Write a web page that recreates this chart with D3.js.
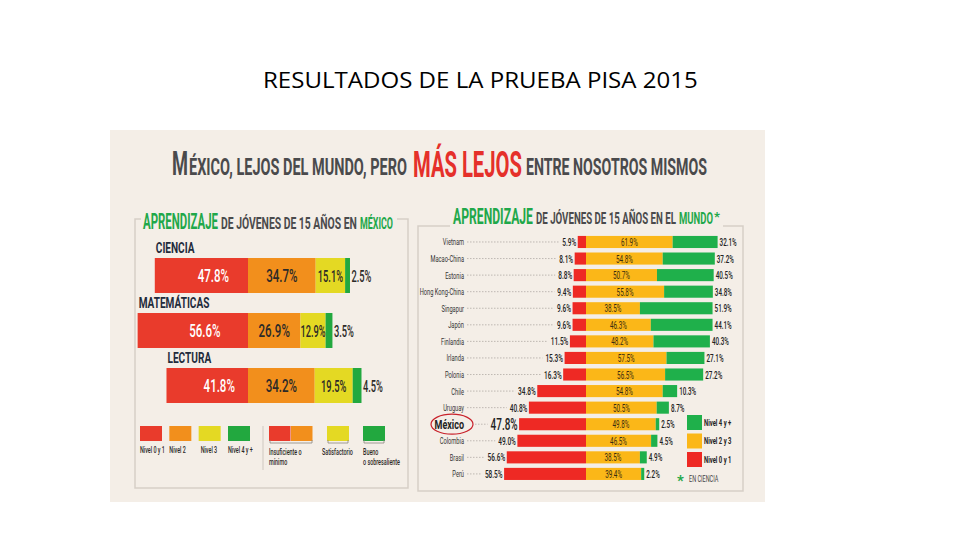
<!DOCTYPE html>
<html><head><meta charset="utf-8">
<script src="https://cdn.jsdelivr.net/npm/d3@7/dist/d3.min.js"></script>
<style>html,body{margin:0;padding:0;background:#fff;}svg{display:block;}</style>
</head><body>
<svg id="c" width="960" height="540"></svg>
<script>
// ---------- DATA ----------
const slideTitle = "RESULTADOS DE LA PRUEBA PISA 2015";
const subjects = ["CIENCIA", "MATEMÁTICAS", "LECTURA"];
const mxNivel01 = [47.8, 56.6, 41.8];
const mxNivel2  = [34.7, 26.9, 34.2];
const mxNivel3  = [15.1, 12.9, 19.5];
const mxNivel4  = [2.5, 3.5, 4.5];
const leftLegendLabels = ["Nivel 0 y 1", "Nivel 2", "Nivel 3", "Nivel 4 y +"];

const countries = ["Vietnam","Macao-China","Estonia","Hong Kong-China","Singapur","Japón","Finlandia","Irlanda","Polonia","Chile","Uruguay","México","Colombia","Brasil","Perú"];
const nivel01 = [5.9, 8.1, 8.8, 9.4, 9.6, 9.6, 11.5, 15.3, 16.3, 34.8, 40.8, 47.8, 49.0, 56.6, 58.5];
const nivel23 = [61.9, 54.8, 50.7, 55.8, 38.5, 46.3, 48.2, 57.5, 56.5, 54.8, 50.5, 49.8, 46.5, 38.5, 39.4];
const nivel4  = [32.1, 37.2, 40.5, 34.8, 51.9, 44.1, 40.3, 27.1, 27.2, 10.3, 8.7, 2.5, 4.5, 4.9, 2.2];
const rightLegendLabels = ["Nivel 4 y +", "Nivel 2 y 3", "Nivel 0 y 1"];

// ---------- STYLE ----------
const C = {
  bg: "#f4eee7", dark: "#4a4a4c", green: "#1fa84a", red: "#e5302a",
  lRed: "#e93b2c", lOrange: "#f28f1c", lYellow: "#e4d923", lGreen: "#22a83f",
  rRed: "#ee2924", rGold: "#fbb718", rGreen: "#1fb04b", navy: "#1f2b3c", text: "#2c2a28"
};
const F = "Roboto, 'Liberation Sans', sans-serif";
const svg = d3.select("#c");

// text condensed horizontally by a transform (factor f), so its box is exact
function txt(g, s, x, y, size, color, weight, anchor, f, family) {
  const t = g.append("text").attr("x", 0).attr("y", 0).text(s)
    .attr("font-family", family || F).attr("font-size", size).attr("fill", color)
    .attr("font-weight", weight || 700).attr("text-anchor", anchor || "start");
  t.attr("transform", `translate(${x},${y}) scale(${f || 1},1)`);
  t.node().__f = f || 1;
  return t;
}
// text squeezed to an exact width
function fitTxt(g, s, x, y, size, color, width, weight, family) {
  const t = txt(g, s, x, y, size, color, weight, "start", 1, family);
  const w = t.node().getComputedTextLength();
  const f = width / w;
  t.attr("transform", `translate(${x},${y}) scale(${f},1)`);
  return t;
}
const widthOf = t => t.node().getComputedTextLength() * t.node().__f;

// Slide title
fitTxt(svg, slideTitle, 263, 88, 22, "#000", 435, 400, "'Open Sans', 'Noto Sans', sans-serif");

// Infographic background
svg.append("rect").attr("x", 110).attr("y", 130).attr("width", 655).attr("height", 372).attr("fill", C.bg);

// Headline
fitTxt(svg, "M", 172, 175, 34, C.dark, 16);
fitTxt(svg, "ÉXICO, LEJOS DEL MUNDO, PERO", 189, 175, 23, C.dark, 218);
fitTxt(svg, "MÁS LEJOS", 413, 177, 37, C.red, 109);
fitTxt(svg, "ENTRE NOSOTROS MISMOS", 526, 175, 23, C.dark, 181);

// Panel boxes (with gaps for subtitles)
const box = svg.append("g").attr("fill", "none").attr("stroke", "#d6cfc7").attr("stroke-width", 1.5);
box.append("path").attr("d", "M141,219 H135 V488 H408 V219 H397");
box.append("path").attr("d", "M450,226 H418 V491 H743 V226 H723");

// Subtitles
fitTxt(svg, "APRENDIZAJE", 143, 229, 22, C.green, 75);
fitTxt(svg, "DE JÓVENES DE 15 AÑOS EN", 221, 229, 16, C.dark, 136);
fitTxt(svg, "MÉXICO", 360, 229, 16, C.green, 33);

fitTxt(svg, "APRENDIZAJE", 453, 224, 22, C.green, 80);
fitTxt(svg, "DE JÓVENES DE 15 AÑOS EN EL", 536, 224, 16, C.dark, 140);
fitTxt(svg, "MUNDO", 679, 224, 16, C.green, 34);
txt(svg, "*", 714, 221, 13, C.green);

// ---------- LEFT CHART ----------
const xL = d3.scaleLinear().domain([0, 100]).range([0, 195]);
const x0L = 248;
const yL = d3.scaleBand().domain(subjects).range([248, 413]).paddingInner(0.364).paddingOuter(0.182);
const gL = svg.append("g");
subjects.forEach((s, i) => {
  const y = yL(s), h = yL.bandwidth();
  const a = xL(mxNivel01[i]), b = xL(mxNivel2[i]), c = xL(mxNivel3[i]), d = xL(mxNivel4[i]);
  gL.append("rect").attr("x", x0L - a).attr("y", y).attr("width", a).attr("height", h).attr("fill", C.lRed);
  gL.append("rect").attr("x", x0L).attr("y", y).attr("width", b).attr("height", h).attr("fill", C.lOrange);
  gL.append("rect").attr("x", x0L + b).attr("y", y).attr("width", c).attr("height", h).attr("fill", C.lYellow);
  gL.append("rect").attr("x", x0L + b + c).attr("y", y).attr("width", d).attr("height", h).attr("fill", C.lGreen);
  txt(gL, s, x0L - a + 1, y - 5, 14, C.navy, 700, "start", 0.72);
  const ty = y + h / 2 + 6.5;
  txt(gL, mxNivel01[i].toFixed(1) + "%", x0L - a / 2 + 12, ty, 18, "#fff", 500, "middle", 0.64);
  txt(gL, mxNivel2[i].toFixed(1) + "%", x0L + b / 2, ty, 18, C.text, 500, "middle", 0.64);
  txt(gL, mxNivel3[i].toFixed(1) + "%", x0L + b + c / 2, ty, 16, C.text, 500, "middle", 0.58);
  txt(gL, mxNivel4[i].toFixed(1) + "%", x0L + b + c + d + 1.5, ty, 16, C.text, 500, "start", 0.58);
});

// Left legend
const legL = svg.append("g");
const legCols = [C.lRed, C.lOrange, C.lYellow, C.lGreen];
const legX = d3.scalePoint().domain(leftLegendLabels).range([140, 228]);
leftLegendLabels.forEach((l, i) => {
  legL.append("rect").attr("x", legX(l)).attr("y", 426).attr("width", 22).attr("height", 15).attr("fill", legCols[i]);
  txt(legL, l, legX(l) + (i === 2 ? 2 : 0), 453, 9, C.text, 500, "start", 0.6);
});
legL.append("line").attr("x1", 263).attr("x2", 263).attr("y1", 426).attr("y2", 470).attr("stroke", "#cfc8c0");
// grouped legend
const groups = [
  {x: 269, w: 44, cols: [C.lRed, C.lOrange], lines: ["Insuficiente o", "mínimo"]},
  {x: 327, w: 22, cols: [C.lYellow], lines: ["Satisfactorio"], tx: 322},
  {x: 363, w: 22, cols: [C.lGreen], lines: ["Bueno", "o sobresaliente"]}
];
groups.forEach(g => {
  const cw = g.w / g.cols.length;
  g.cols.forEach((c, j) => legL.append("rect").attr("x", g.x + j * cw).attr("y", 426).attr("width", cw - (g.cols.length > 1 ? 0.5 : 0)).attr("height", 15).attr("fill", c));
  legL.append("path").attr("d", `M${g.x + 1},440 V443 H${g.x + g.w - 1} V440`).attr("fill", "none").attr("stroke", "#8a8580").attr("stroke-width", 0.8);
  g.lines.forEach((t, k) => txt(legL, t, g.tx || g.x, 455 + k * 10, 9, C.text, 500, "start", 0.6));
});

// ---------- RIGHT CHART ----------
const xR = d3.scaleLinear().domain([0, 100]).range([0, 140]);
const x0R = 586;
const yR = d3.scaleBand().domain(countries).range([233.7, 482.2]).paddingInner(0.27).paddingOuter(0.135);
const gR = svg.append("g");
countries.forEach((c, i) => {
  const y = yR(c), h = yR.bandwidth(), cy = y + h / 2;
  const a = xR(nivel01[i]), b = xR(nivel23[i]), d = xR(nivel4[i]);
  const isMx = c === "México";
  gR.append("rect").attr("x", x0R - a).attr("y", y).attr("width", a).attr("height", h).attr("fill", C.rRed);
  gR.append("rect").attr("x", x0R).attr("y", y).attr("width", b).attr("height", h).attr("fill", C.rGold);
  gR.append("rect").attr("x", x0R + b).attr("y", y).attr("width", d).attr("height", h).attr("fill", C.rGreen);
  txt(gR, c, 464, cy + (isMx ? 4.5 : 3.5), isMx ? 12.5 : 9.5, isMx ? "#222" : "#333", isMx ? 700 : 400, "end", isMx ? 0.72 : 0.6);
  const v1 = txt(gR, nivel01[i].toFixed(1) + "%", x0R - a - 1.5, cy + (isMx ? 6 : 4), isMx ? 16 : 10.5, "#222", 500, "end", 0.62);
  txt(gR, nivel23[i].toFixed(1) + "%", x0R + b / 2, cy + 4, 10.5, "#3a2c10", 400, "middle", 0.6);
  txt(gR, nivel4[i].toFixed(1) + "%", x0R + b + d + 2, cy + 4, 10.5, "#222", 500, "start", 0.6);
  const vw = widthOf(v1);
  const xs = isMx ? 475 : 467, xe = x0R - a - 1.5 - vw - 3;
  if (xe > xs) gR.append("line").attr("x1", xs).attr("x2", xe).attr("y1", cy).attr("y2", cy)
    .attr("stroke", "#9a948e").attr("stroke-width", 0.6).attr("stroke-dasharray", "1.5,1.5");
  if (isMx) gR.append("ellipse").attr("cx", 452).attr("cy", cy).attr("rx", 21).attr("ry", 10)
    .attr("fill", "none").attr("stroke", "#c8202a").attr("stroke-width", 1.2);
});

// Right legend
const legR = svg.append("g");
const rCols = [C.rGreen, C.rGold, C.rRed];
const legY = d3.scalePoint().domain(rightLegendLabels).range([415, 452]);
rightLegendLabels.forEach((l, i) => {
  legR.append("rect").attr("x", 687).attr("y", legY(l)).attr("width", 15).attr("height", 15).attr("fill", rCols[i]);
  txt(legR, l, 704, legY(l) + 10.5, 9.5, "#222", 700, "start", 0.62);
});
txt(legR, "*", 677, 486, 15, C.green);
txt(legR, "EN CIENCIA", 689, 482, 8.5, "#444", 400, "start", 0.65);
</script>
</body></html>
